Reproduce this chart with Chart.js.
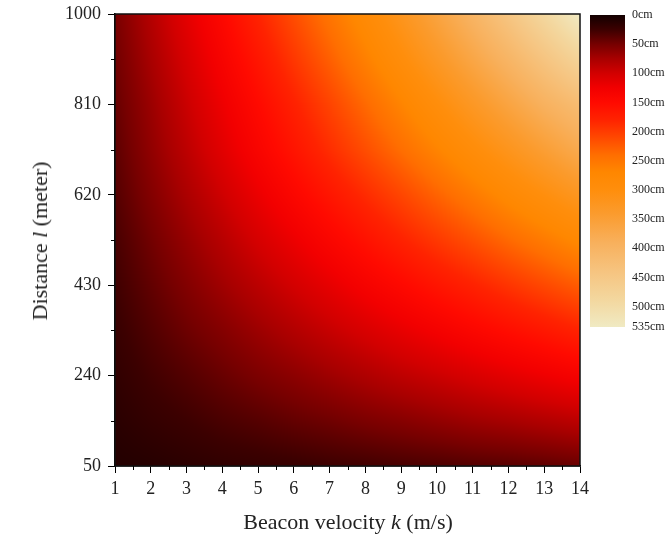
<!DOCTYPE html>
<html>
<head>
<meta charset="utf-8">
<script src="https://cdn.jsdelivr.net/npm/chart.js@4/dist/chart.umd.min.js"></script>
<style>
html,body{margin:0;padding:0;background:#fff;}
#wrap{position:relative;width:672px;height:536px;overflow:hidden;background:#fff;}
#main{position:absolute;left:0;top:0;width:672px;height:536px;}
#cbar{position:absolute;left:580px;top:0;width:92px;height:345px;}
.t{position:absolute;font-family:"Liberation Serif","Times New Roman",serif;font-size:22px;color:#222;white-space:nowrap;}
#xt{left:348px;top:522px;transform:translate(-50%,-50%);}
#yt{left:40px;top:241px;transform:translate(-50%,-50%) rotate(-90deg);}
</style>
</head>
<body>
<div id="wrap">
  <canvas id="main" width="672" height="536"></canvas>
  <canvas id="cbar" width="92" height="345"></canvas>
  <div class="t" id="xt">Beacon velocity <i>k</i> (m/s)</div>
  <div class="t" id="yt">Distance <i>l</i> (meter)</div>
</div>
<script>
// ---- data ----
const velocity = [1,2,3,4,5,6,7,8,9,10,11,12,13,14];          // k (m/s)
const distance = [50,145,240,335,430,525,620,715,810,905,1000]; // l (meter)
// error (cm) for each distance row, one value per velocity
const err_l50   = [10,12,15,18,20,22,25,27,30,32,35,37,40,44];
const err_l145  = [14,20,25,31,36,42,47,53,58,64,70,75,81,87];
const err_l240  = [18,27,35,44,53,61,70,79,88,96,105,114,123,132];
const err_l335  = [22,34,46,57,69,81,93,105,117,129,142,154,166,179];
const err_l430  = [26,41,56,71,86,101,116,132,147,163,178,194,210,226];
const err_l525  = [30,48,66,84,103,121,140,159,178,197,216,236,255,275];
const err_l620  = [35,56,77,98,120,142,164,186,208,231,254,278,301,325];
const err_l715  = [39,63,87,112,137,162,188,214,240,266,293,320,348,376];
const err_l810  = [43,68,95,122,149,177,206,236,266,297,329,361,393,420];
const err_l905  = [47,75,104,134,164,196,228,261,295,330,366,402,440,478];
const err_l1000 = [51,82,114,146,180,214,248,284,321,360,400,442,488,535];
const errorRows = [err_l50,err_l145,err_l240,err_l335,err_l430,err_l525,err_l620,err_l715,err_l810,err_l905,err_l1000];

const xTicks = [1,2,3,4,5,6,7,8,9,10,11,12,13,14];
const yTicks = [50,240,430,620,810,1000];
const cbarTicks = [0,50,100,150,200,250,300,350,400,450,500,535];
const cbarMin = 0, cbarMax = 535;

// ---- colormap (style) ----
const cmap = [
  [0,18,0,0],[25,60,0,0],[50,118,0,0],[75,168,0,0],[100,210,0,0],[125,242,0,0],
  [150,255,10,0],[180,255,35,0],[210,255,72,0],[240,255,110,0],[270,255,135,0],[300,255,142,12],
  [340,251,155,45],[390,248,176,92],[440,246,196,128],[490,243,216,160],[535,240,234,195]
];
function colorFor(v){
  if (v <= cmap[0][0]) return cmap[0].slice(1);
  for (let i=0;i<cmap.length-1;i++){
    const a=cmap[i], b=cmap[i+1];
    if (v <= b[0]){
      const t=(v-a[0])/(b[0]-a[0]);
      return [a[1]+(b[1]-a[1])*t, a[2]+(b[2]-a[2])*t, a[3]+(b[3]-a[3])*t];
    }
  }
  return cmap[cmap.length-1].slice(1);
}
function locate(arr, v){
  if (v <= arr[0]) return [0,0];
  if (v >= arr[arr.length-1]) return [arr.length-2,1];
  for (let i=0;i<arr.length-1;i++){
    if (v <= arr[i+1]) return [i,(v-arr[i])/(arr[i+1]-arr[i])];
  }
  return [arr.length-2,1];
}
function sampleGrid(k,l){
  const [i,tx]=locate(velocity,k), [j,ty]=locate(distance,l);
  const r0=errorRows[j], r1=errorRows[j+1];
  const a=r0[i]+(r0[i+1]-r0[i])*tx;
  const b=r1[i]+(r1[i+1]-r1[i])*tx;
  return a+(b-a)*ty;
}

const points = [];
distance.forEach((l,j)=>velocity.forEach((k,i)=>points.push({x:k,y:l,v:errorRows[j][i]})));

const heatmapPlugin = {
  id:'heatmap',
  beforeDatasetsDraw(chart){
    const {ctx, chartArea:a, scales:{x,y}} = chart;
    const w=Math.round(a.right-a.left), h=Math.round(a.bottom-a.top);
    const off=document.createElement('canvas'); off.width=w; off.height=h;
    const octx=off.getContext('2d'); const img=octx.createImageData(w,h); const d=img.data;
    for (let j=0;j<h;j++){
      const l=y.getValueForPixel(a.top+j+0.5);
      for (let i=0;i<w;i++){
        const k=x.getValueForPixel(a.left+i+0.5);
        const c=colorFor(sampleGrid(k,l));
        const p=(j*w+i)*4;
        d[p]=c[0]; d[p+1]=c[1]; d[p+2]=c[2]; d[p+3]=255;
      }
    }
    octx.putImageData(img,0,0);
    ctx.drawImage(off,a.left,a.top,a.right-a.left,a.bottom-a.top);
  }
};

const framePlugin = {
  id:'frame',
  afterDraw(chart){
    const {ctx, chartArea:a, scales:{x,y}} = chart;
    ctx.save();
    ctx.strokeStyle='#111'; ctx.lineWidth=1.5;
    ctx.strokeRect(a.left,a.top,a.right-a.left,a.bottom-a.top);
    ctx.lineWidth=1; ctx.strokeStyle='#000';
    ctx.beginPath();
    for (let i=0;i<xTicks.length-1;i++){
      const px=Math.round(x.getPixelForValue((xTicks[i]+xTicks[i+1])/2))+0.5;
      ctx.moveTo(px,a.bottom); ctx.lineTo(px,a.bottom+4);
    }
    for (let j=0;j<yTicks.length-1;j++){
      const py=Math.round(y.getPixelForValue((yTicks[j]+yTicks[j+1])/2))+0.5;
      ctx.moveTo(a.left,py); ctx.lineTo(a.left-4,py);
    }
    ctx.stroke();
    ctx.restore();
  }
};

const tickFont = {family:'"Liberation Serif","Times New Roman",serif', size:18};

new Chart(document.getElementById('main'), {
  type:'scatter',
  data:{datasets:[{data:points, pointRadius:0, pointHoverRadius:0, showLine:false}]},
  options:{
    responsive:false, animation:false,
    layout:{padding:{left:0,right:92,top:14,bottom:0}},
    plugins:{legend:{display:false}, tooltip:{enabled:false}},
    scales:{
      x:{type:'linear', min:1, max:14, position:'bottom',
         afterBuildTicks:s=>{s.ticks=xTicks.map(v=>({value:v}));},
         afterFit:s=>{s.height=70; s.paddingLeft=0; s.paddingRight=0;},
         grid:{drawOnChartArea:false, drawTicks:true, tickLength:7, color:'#000', lineWidth:1},
         border:{display:true, color:'#000', width:1.5},
         ticks:{callback:v=>String(v), font:tickFont, color:'#222', padding:5, maxRotation:0, autoSkip:false}},
      y:{type:'linear', min:50, max:1000,
         afterBuildTicks:s=>{s.ticks=yTicks.map(v=>({value:v}));},
         afterFit:s=>{s.width=115; s.paddingTop=0; s.paddingBottom=0;},
         grid:{drawOnChartArea:false, drawTicks:true, tickLength:7, color:'#000', lineWidth:1},
         border:{display:true, color:'#000', width:1.5},
         ticks:{callback:v=>String(v), font:tickFont, color:'#222', padding:7, autoSkip:false}}
    }
  },
  plugins:[heatmapPlugin, framePlugin]
});

new Chart(document.getElementById('cbar'), {
  type:'bar',
  data:{labels:['error'], datasets:[{
    data:[[cbarMin,cbarMax]], borderWidth:0, barPercentage:1, categoryPercentage:1,
    backgroundColor:(c)=>{
      const ch=c.chart; if(!ch.chartArea) return '#000';
      const ys=ch.scales.y;
      const y0=ys.getPixelForValue(cbarMin), y1=ys.getPixelForValue(cbarMax);
      const g=ch.ctx.createLinearGradient(0,y0,0,y1);
      cmap.forEach(s=>g.addColorStop((s[0]-cbarMin)/(cbarMax-cbarMin),`rgb(${s[1]},${s[2]},${s[3]})`));
      return g;
    }
  }]},
  options:{
    responsive:false, animation:false,
    layout:{padding:{left:10,right:0,top:15,bottom:18}},
    plugins:{legend:{display:false}, tooltip:{enabled:false}},
    scales:{
      x:{display:false},
      y:{position:'right', reverse:true, min:cbarMin, max:cbarMax,
         afterBuildTicks:s=>{s.ticks=cbarTicks.map(v=>({value:v}));},
         afterFit:s=>{s.width=47; s.paddingTop=0; s.paddingBottom=0;},
         grid:{display:false, drawTicks:false},
         border:{display:false},
         ticks:{callback:v=>v+'cm', font:{family:'"Liberation Serif","Times New Roman",serif', size:12}, color:'#222', padding:7, autoSkip:false}}
    }
  }
});
</script>
</body>
</html>
